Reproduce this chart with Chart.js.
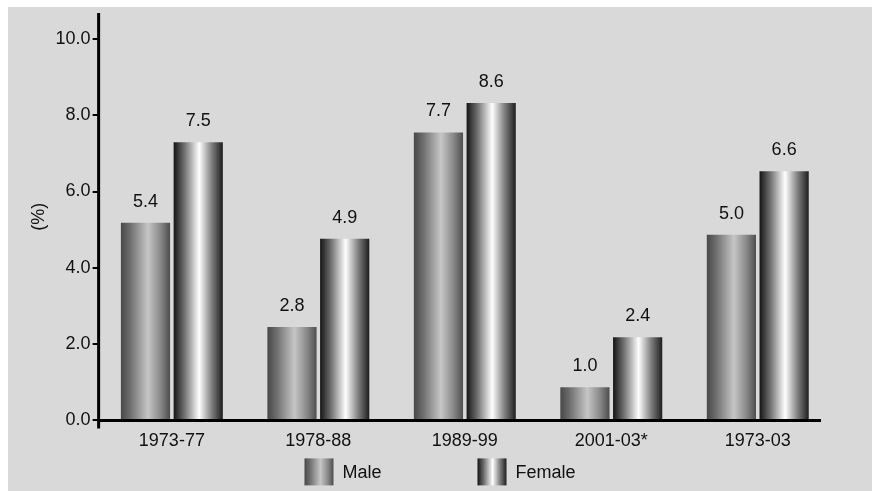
<!DOCTYPE html>
<html>
<head>
<meta charset="utf-8">
<script src="https://cdn.jsdelivr.net/npm/chart.js@4.4.0/dist/chart.umd.min.js"></script>
<style>
  html, body { margin: 0; padding: 0; background: #ffffff; }
  #wrap { position: absolute; left: 8px; top: 7px; width: 864px; height: 484px; background: #d9d9d9; }
</style>
</head>
<body>
<div id="wrap"><canvas id="myChart"></canvas></div>
<script>
var categories = ['1973-77', '1978-88', '1989-99', '2001-03*', '1973-03'];
var seriesNames = ['Male', 'Female'];
// bar heights as drawn in the picture
var maleValues = [5.18, 2.45, 7.55, 0.87, 4.87];
var femaleValues = [7.29, 4.76, 8.32, 2.18, 6.53];
// values printed above the bars
var maleLabels = ['5.4', '2.8', '7.7', '1.0', '5.0'];
var femaleLabels = ['7.5', '4.9', '8.6', '2.4', '6.6'];
var yTicks = [0, 2, 4, 6, 8, 10];

var FONT = "'Liberation Sans', Arial, sans-serif";
var TEXT = '#111111';
var CAT_PCT = 0.72;
var BAR_PCT = 0.933;

var stops = {
    Male: [[0, '#484848'], [0.18, '#6c6c6c'], [0.55, '#c6c6c6'], [0.8, '#8a8a8a'], [1, '#4e4e4e']],
    Female: [[0, '#141414'], [0.22, '#707070'], [0.52, '#ffffff'], [0.78, '#7c7c7c'], [1, '#1e1e1e']]
};

function makeGradient(ctx, name, x0, x1) {
    var g = ctx.createLinearGradient(x0, 0, x1, 0);
    stops[name].forEach(function (s) { g.addColorStop(s[0], s[1]); });
    return g;
}

// cylinder-like shading, one gradient per bar, placed from the x scale
function barFill(c) {
    var chart = c.chart;
    var xs = chart.scales.x;
    var name = seriesNames[c.datasetIndex];
    if (!xs || c.dataIndex === undefined) {
        return '#888888';
    }
    var slot = (xs.width / categories.length) * CAT_PCT / 2;
    var w = slot * BAR_PCT;
    var cx = xs.getPixelForValue(c.dataIndex) + (c.datasetIndex - 0.5) * slot;
    if (!isFinite(cx) || !isFinite(w) || w <= 0) {
        return '#888888';
    }
    return makeGradient(chart.ctx, name, cx - w / 2, cx + w / 2);
}

var labelPlugin = {
    id: 'barLabels',
    afterDatasetsDraw: function (chart) {
        var ctx = chart.ctx;
        var texts = [maleLabels, femaleLabels];
        ctx.save();
        ctx.font = '18px ' + FONT;
        ctx.fillStyle = TEXT;
        ctx.textAlign = 'center';
        ctx.textBaseline = 'alphabetic';
        chart.data.datasets.forEach(function (ds, i) {
            chart.getDatasetMeta(i).data.forEach(function (bar, j) {
                ctx.fillText(texts[i][j], bar.x, bar.y - 16);
            });
        });
        ctx.restore();
    }
};

// axis lines and the legend row
var framePlugin = {
    id: 'frame',
    afterDraw: function (chart) {
        var ctx = chart.ctx;
        var a = chart.chartArea;
        ctx.save();
        ctx.strokeStyle = '#000000';
        ctx.lineWidth = 3;
        ctx.beginPath();
        ctx.moveTo(a.left, a.top);
        ctx.lineTo(a.left, a.bottom + 8);
        ctx.moveTo(a.left, a.bottom);
        ctx.lineTo(a.right - 10, a.bottom);
        ctx.stroke();

        ctx.font = '18px ' + FONT;
        ctx.textBaseline = 'middle';
        ctx.textAlign = 'left';
        var boxW = 29, boxH = 27, gap = 96, pad = 9;
        var widths = seriesNames.map(function (n) { return boxW + pad + ctx.measureText(n).width; });
        var total = widths[0] + gap + widths[1];
        var x = (chart.width - total) / 2;
        var y = a.bottom + 38;
        seriesNames.forEach(function (n, i) {
            ctx.fillStyle = makeGradient(ctx, n, x, x + boxW);
            ctx.fillRect(x, y, boxW, boxH);
            ctx.fillStyle = TEXT;
            ctx.fillText(n, x + boxW + pad, y + boxH / 2 + 1);
            x += widths[i] + gap;
        });
        ctx.restore();
    }
};

var ctx = document.getElementById('myChart').getContext('2d');
var chart = new Chart(ctx, {
    type: 'bar',
    data: {
        labels: categories,
        datasets: [{
            label: seriesNames[0],
            data: maleValues,
            backgroundColor: barFill,
            borderWidth: 0,
            categoryPercentage: CAT_PCT,
            barPercentage: BAR_PCT
        }, {
            label: seriesNames[1],
            data: femaleValues,
            backgroundColor: barFill,
            borderWidth: 0,
            categoryPercentage: CAT_PCT,
            barPercentage: BAR_PCT
        }]
    },
    plugins: [labelPlugin, framePlugin],
    options: {
        responsive: true,
        maintainAspectRatio: false,
        animation: false,
        layout: {
            padding: { left: 16, right: 41, top: 6, bottom: 29 }
        },
        scales: {
            x: {
                grid: { display: false, drawTicks: false },
                border: { display: false },
                ticks: {
                    color: TEXT,
                    padding: 10,
                    font: { family: FONT, size: 18 }
                }
            },
            y: {
                min: 0,
                max: 10.68,
                afterBuildTicks: function (scale) {
                    scale.ticks = yTicks.map(function (v) { return { value: v }; });
                },
                afterFit: function (scale) {
                    scale.paddingTop = 0;
                    scale.paddingBottom = 0;
                },
                grid: {
                    drawOnChartArea: false,
                    drawTicks: true,
                    tickLength: 6,
                    color: '#000000',
                    lineWidth: 2
                },
                border: { display: false },
                ticks: {
                    color: TEXT,
                    padding: 2,
                    font: { family: FONT, size: 18 },
                    callback: function (value) {
                        return Number(value).toFixed(1);
                    }
                },
                title: {
                    display: true,
                    text: '(%)',
                    color: TEXT,
                    padding: { top: 4, bottom: 4 },
                    font: { family: FONT, size: 18 }
                }
            }
        },
        plugins: {
            legend: { display: false },
            tooltip: { enabled: false }
        }
    }
});
</script>
</body>
</html>
